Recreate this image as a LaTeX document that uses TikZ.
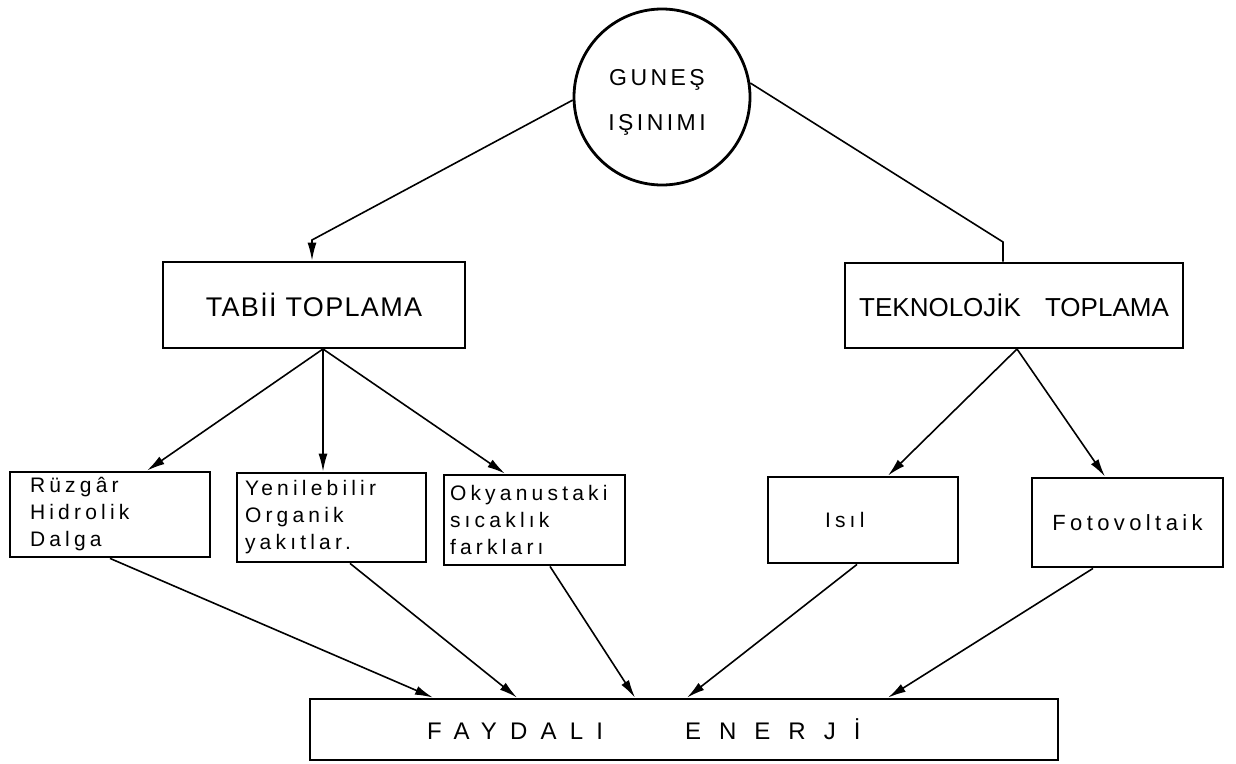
\documentclass[tikz,border=0pt]{standalone}
\usepackage{fontspec}
\setmainfont{Liberation Sans}
\newfontfamily\fA[LetterSpace=20]{Liberation Sans}
\newfontfamily\fB[LetterSpace=5]{Liberation Sans}
\newfontfamily\fC[LetterSpace=55]{Liberation Sans}
\newfontfamily\fE[LetterSpace=75]{Liberation Sans}
\newfontfamily\fD[LetterSpace=15]{Liberation Sans}
\usetikzlibrary{arrows.meta}
\begin{document}
\begin{tikzpicture}[x=1pt,y=-1pt,
  bx/.style={draw, line width=2.8pt, inner ysep=0pt},
  ln/.style={line width=1.6pt},
  arr/.style={ln, -{Latex[length=18pt,width=9pt]}},
  small/.style={font=\fA\fontsize{21}{27}\selectfont, align=left}]
\fill[white] (0,0) rectangle (1236,763);
\useasboundingbox (0,0) rectangle (1236,763);
\node[draw, circle, line width=2.8pt, minimum size=176pt, inner sep=0pt] (sun) at (662,97) {};
\node[font=\fD\fontsize{23}{45}\selectfont, align=center, inner sep=0pt] (suntext) at (657,102) {GUNEŞ\\IŞINIMI};
\node[bx, minimum width=302pt, minimum height=86pt, font=\fB\fontsize{27}{32}\selectfont] (tabii) at (314,305) {TABİİ TOPLAMA};
\node[bx, minimum width=338pt, minimum height=85pt, font=\fontsize{26}{32}\selectfont] (tekno) at (1014,305.5) {TEKNOLOJİK\hspace{24pt}TOPLAMA};
\node[bx, minimum height=85pt, inner xsep=20pt, text width=160pt, small] (r) at (110,514.5) {Rüzgâr\\Hidrolik\\Dalga};
\node[bx, minimum height=89pt, inner xsep=8pt, text width=173pt, small] (y) at (331.5,517.5) {Yenilebilir\\Organik\\yakıtlar.};
\node[bx, minimum height=90pt, inner xsep=6pt, text width=169pt, small] (o) at (534.5,520) {Okyanustaki\\sıcaklık\\farkları};
\node[bx, minimum height=86pt, inner xsep=57pt, text width=76pt, small] (isil) at (863,520) {Isıl};
\node[bx, minimum height=89pt, minimum width=191pt, font=\fA\fontsize{22}{27}\selectfont] (foto) at (1127.5,522.5) {Fotovoltaik};
\node[bx, minimum height=61pt, inner xsep=117pt, text width=514pt, align=left, font=\fC\fontsize{24}{28}\selectfont] (F) at (684,729.5) {FAYDALI\hspace{82pt}{\fE ENERJİ}};
\coordinate (k1) at (312,240);
\draw[arr] (sun.182) -- (k1) -- (k1 |- tabii.north);
\coordinate (k2) at (1003,242);
\draw[ln] (sun.9) -- (k2) -- (k2 |- tekno.north);
\coordinate (a1) at (323,349);
\draw[arr] (a1) -- (147,0 |- r.north);
\draw[arr] (a1) -- (323,0 |- y.north);
\draw[arr] (a1) -- (505,0 |- o.north);
\coordinate (a2) at (1017,349);
\draw[arr] (a2) -- (888,0 |- isil.north);
\draw[arr] (a2) -- (1105,0 |- foto.north);
\draw[arr] (110,0 |- r.south) -- (433,0 |- F.north);
\draw[arr] (350,0 |- y.south) -- (517,0 |- F.north);
\draw[arr] (550,0 |- o.south) -- (635,0 |- F.north);
\draw[arr] (857,0 |- isil.south) -- (687,0 |- F.north);
\draw[arr] (1093,0 |- foto.south) -- (888,0 |- F.north);
\end{tikzpicture}
\end{document}
